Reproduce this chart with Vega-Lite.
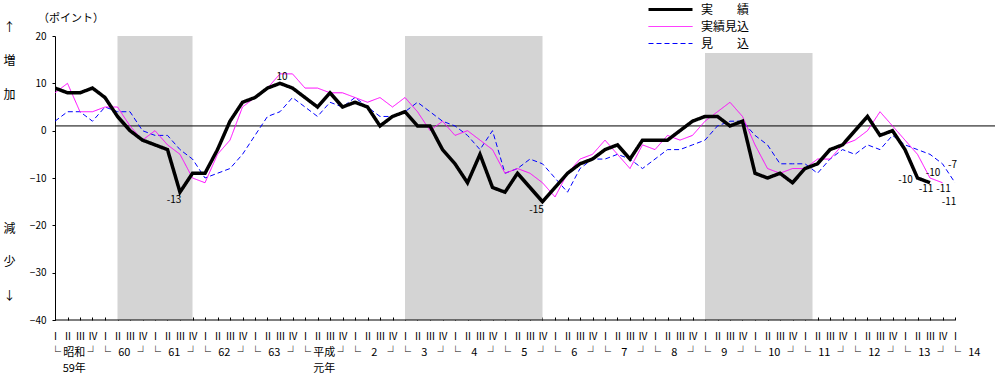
{
"$schema":"https://vega.github.io/schema/vega-lite/v6.json",
"width":940,"height":284,
"autosize":{"type":"none"},
"padding":{"left":55,"top":36,"right":7,"bottom":57},
"background":"white",
"title":{"text":"（ポイント）","anchor":"start","frame":"group","dx":-17,"dy":20,"offset":0,"fontSize":11,"fontWeight":"normal","font":"Noto Sans CJK JP","color":"black"},
"config":{"view":{"stroke":null},"font":"Noto Sans CJK JP","axis":{"grid":false,"labelColor":"black","tickColor":"black","domainColor":"black","labelFont":"Noto Sans CJK JP","titleColor":"black","titleFont":"Noto Sans CJK JP"}},
"datasets":{
"shade":[{"from":5,"to":11,"top":20},{"from":28,"to":39,"top":20},{"from":52,"to":60.6,"top":16.4}],
"series":[
{"s":"見　　込","q":0,"v":2},{"s":"見　　込","q":1,"v":4},{"s":"見　　込","q":2,"v":4},{"s":"見　　込","q":3,"v":2},{"s":"見　　込","q":4,"v":5},{"s":"見　　込","q":5,"v":4},{"s":"見　　込","q":6,"v":4},{"s":"見　　込","q":7,"v":0},{"s":"見　　込","q":8,"v":-1},{"s":"見　　込","q":9,"v":-1},
{"s":"見　　込","q":10,"v":-4},{"s":"見　　込","q":11,"v":-6},{"s":"見　　込","q":12,"v":-10},{"s":"見　　込","q":13,"v":-9},{"s":"見　　込","q":14,"v":-8},{"s":"見　　込","q":15,"v":-5},{"s":"見　　込","q":16,"v":-1},{"s":"見　　込","q":17,"v":3},{"s":"見　　込","q":18,"v":4},{"s":"見　　込","q":19,"v":7},
{"s":"見　　込","q":20,"v":5},{"s":"見　　込","q":21,"v":3},{"s":"見　　込","q":22,"v":6},{"s":"見　　込","q":23,"v":5},{"s":"見　　込","q":24,"v":7},{"s":"見　　込","q":25,"v":5},{"s":"見　　込","q":26,"v":3},{"s":"見　　込","q":27,"v":3},{"s":"見　　込","q":28,"v":4},{"s":"見　　込","q":29,"v":6},
{"s":"見　　込","q":30,"v":4},{"s":"見　　込","q":31,"v":2},{"s":"見　　込","q":32,"v":1},{"s":"見　　込","q":33,"v":-1},{"s":"見　　込","q":34,"v":-4},{"s":"見　　込","q":35,"v":0},{"s":"見　　込","q":36,"v":-9},{"s":"見　　込","q":37,"v":-8},{"s":"見　　込","q":38,"v":-6},{"s":"見　　込","q":39,"v":-7},
{"s":"見　　込","q":40,"v":-10},{"s":"見　　込","q":41,"v":-13},{"s":"見　　込","q":42,"v":-8},{"s":"見　　込","q":43,"v":-6},{"s":"見　　込","q":44,"v":-6},{"s":"見　　込","q":45,"v":-5},{"s":"見　　込","q":46,"v":-6},{"s":"見　　込","q":47,"v":-8},{"s":"見　　込","q":48,"v":-6},{"s":"見　　込","q":49,"v":-4},
{"s":"見　　込","q":50,"v":-4},{"s":"見　　込","q":51,"v":-3},{"s":"見　　込","q":52,"v":-2},{"s":"見　　込","q":53,"v":1},{"s":"見　　込","q":54,"v":2},{"s":"見　　込","q":55,"v":2},{"s":"見　　込","q":56,"v":-1},{"s":"見　　込","q":57,"v":-3},{"s":"見　　込","q":58,"v":-7},{"s":"見　　込","q":59,"v":-7},
{"s":"見　　込","q":60,"v":-7},{"s":"見　　込","q":61,"v":-9},{"s":"見　　込","q":62,"v":-6},{"s":"見　　込","q":63,"v":-4},{"s":"見　　込","q":64,"v":-5},{"s":"見　　込","q":65,"v":-3},{"s":"見　　込","q":66,"v":-4},{"s":"見　　込","q":67,"v":-1},{"s":"見　　込","q":68,"v":-3},{"s":"見　　込","q":69,"v":-4},
{"s":"見　　込","q":70,"v":-5},{"s":"見　　込","q":71,"v":-7},{"s":"見　　込","q":72,"v":-11},
{"s":"実績見込","q":0,"v":8},{"s":"実績見込","q":1,"v":10},{"s":"実績見込","q":2,"v":4},{"s":"実績見込","q":3,"v":4},{"s":"実績見込","q":4,"v":5},{"s":"実績見込","q":5,"v":5},{"s":"実績見込","q":6,"v":1},{"s":"実績見込","q":7,"v":-2},{"s":"実績見込","q":8,"v":0},{"s":"実績見込","q":9,"v":-3},
{"s":"実績見込","q":10,"v":-5},{"s":"実績見込","q":11,"v":-10},{"s":"実績見込","q":12,"v":-11},{"s":"実績見込","q":13,"v":-5},{"s":"実績見込","q":14,"v":-2},{"s":"実績見込","q":15,"v":5},{"s":"実績見込","q":16,"v":7},{"s":"実績見込","q":17,"v":9},{"s":"実績見込","q":18,"v":12},{"s":"実績見込","q":19,"v":12},
{"s":"実績見込","q":20,"v":9},{"s":"実績見込","q":21,"v":9},{"s":"実績見込","q":22,"v":8},{"s":"実績見込","q":23,"v":8},{"s":"実績見込","q":24,"v":7},{"s":"実績見込","q":25,"v":6},{"s":"実績見込","q":26,"v":7},{"s":"実績見込","q":27,"v":5},{"s":"実績見込","q":28,"v":7},{"s":"実績見込","q":29,"v":4},
{"s":"実績見込","q":30,"v":0},{"s":"実績見込","q":31,"v":2},{"s":"実績見込","q":32,"v":-1},{"s":"実績見込","q":33,"v":0},{"s":"実績見込","q":34,"v":-2},{"s":"実績見込","q":35,"v":-4},{"s":"実績見込","q":36,"v":-9},{"s":"実績見込","q":37,"v":-8},{"s":"実績見込","q":38,"v":-9},{"s":"実績見込","q":39,"v":-11},
{"s":"実績見込","q":40,"v":-14},{"s":"実績見込","q":41,"v":-9},{"s":"実績見込","q":42,"v":-6},{"s":"実績見込","q":43,"v":-5},{"s":"実績見込","q":44,"v":-2},{"s":"実績見込","q":45,"v":-5},{"s":"実績見込","q":46,"v":-8},{"s":"実績見込","q":47,"v":-3},{"s":"実績見込","q":48,"v":-4},{"s":"実績見込","q":49,"v":-1},
{"s":"実績見込","q":50,"v":-2},{"s":"実績見込","q":51,"v":-1},{"s":"実績見込","q":52,"v":2},{"s":"実績見込","q":53,"v":4},{"s":"実績見込","q":54,"v":6},{"s":"実績見込","q":55,"v":3},{"s":"実績見込","q":56,"v":-3},{"s":"実績見込","q":57,"v":-8},{"s":"実績見込","q":58,"v":-9},{"s":"実績見込","q":59,"v":-8},
{"s":"実績見込","q":60,"v":-8},{"s":"実績見込","q":61,"v":-6},{"s":"実績見込","q":62,"v":-6},{"s":"実績見込","q":63,"v":-3},{"s":"実績見込","q":64,"v":-2},{"s":"実績見込","q":65,"v":0},{"s":"実績見込","q":66,"v":4},{"s":"実績見込","q":67,"v":1},{"s":"実績見込","q":68,"v":-2},{"s":"実績見込","q":69,"v":-5},
{"s":"実績見込","q":70,"v":-10},{"s":"実績見込","q":71,"v":-11},
{"s":"実　　績","q":0,"v":9},{"s":"実　　績","q":1,"v":8},{"s":"実　　績","q":2,"v":8},{"s":"実　　績","q":3,"v":9},{"s":"実　　績","q":4,"v":7},{"s":"実　　績","q":5,"v":3},{"s":"実　　績","q":6,"v":0},{"s":"実　　績","q":7,"v":-2},{"s":"実　　績","q":8,"v":-3},{"s":"実　　績","q":9,"v":-4},
{"s":"実　　績","q":10,"v":-13},{"s":"実　　績","q":11,"v":-9},{"s":"実　　績","q":12,"v":-9},{"s":"実　　績","q":13,"v":-4},{"s":"実　　績","q":14,"v":2},{"s":"実　　績","q":15,"v":6},{"s":"実　　績","q":16,"v":7},{"s":"実　　績","q":17,"v":9},{"s":"実　　績","q":18,"v":10},{"s":"実　　績","q":19,"v":9},
{"s":"実　　績","q":20,"v":7},{"s":"実　　績","q":21,"v":5},{"s":"実　　績","q":22,"v":8},{"s":"実　　績","q":23,"v":5},{"s":"実　　績","q":24,"v":6},{"s":"実　　績","q":25,"v":5},{"s":"実　　績","q":26,"v":1},{"s":"実　　績","q":27,"v":3},{"s":"実　　績","q":28,"v":4},{"s":"実　　績","q":29,"v":1},
{"s":"実　　績","q":30,"v":1},{"s":"実　　績","q":31,"v":-4},{"s":"実　　績","q":32,"v":-7},{"s":"実　　績","q":33,"v":-11},{"s":"実　　績","q":34,"v":-5},{"s":"実　　績","q":35,"v":-12},{"s":"実　　績","q":36,"v":-13},{"s":"実　　績","q":37,"v":-9},{"s":"実　　績","q":38,"v":-12},{"s":"実　　績","q":39,"v":-15},
{"s":"実　　績","q":40,"v":-12},{"s":"実　　績","q":41,"v":-9},{"s":"実　　績","q":42,"v":-7},{"s":"実　　績","q":43,"v":-6},{"s":"実　　績","q":44,"v":-4},{"s":"実　　績","q":45,"v":-3},{"s":"実　　績","q":46,"v":-6},{"s":"実　　績","q":47,"v":-2},{"s":"実　　績","q":48,"v":-2},{"s":"実　　績","q":49,"v":-2},
{"s":"実　　績","q":50,"v":0},{"s":"実　　績","q":51,"v":2},{"s":"実　　績","q":52,"v":3},{"s":"実　　績","q":53,"v":3},{"s":"実　　績","q":54,"v":1},{"s":"実　　績","q":55,"v":2},{"s":"実　　績","q":56,"v":-9},{"s":"実　　績","q":57,"v":-10},{"s":"実　　績","q":58,"v":-9},{"s":"実　　績","q":59,"v":-11},
{"s":"実　　績","q":60,"v":-8},{"s":"実　　績","q":61,"v":-7},{"s":"実　　績","q":62,"v":-4},{"s":"実　　績","q":63,"v":-3},{"s":"実　　績","q":64,"v":0},{"s":"実　　績","q":65,"v":3},{"s":"実　　績","q":66,"v":-1},{"s":"実　　績","q":67,"v":0},{"s":"実　　績","q":68,"v":-4},{"s":"実　　績","q":69,"v":-10},
{"s":"実　　績","q":70,"v":-11}
]
},
"resolve":{"axis":{"x":"independent","y":"independent"}},
"layer":[
{"data":{"name":"shade"},"mark":{"type":"rect","color":"#d4d4d4"},
 "encoding":{
  "x":{"field":"from","type":"quantitative","scale":{"domain":[0,75.2],"nice":false,"zero":false},
   "axis":{"orient":"bottom","values":[0,1,2,3,4,5,6,7,8,9,10,11,12,13,14,15,16,17,18,19,20,21,22,23,24,25,26,27,28,29,30,31,32,33,34,35,36,37,38,39,40,41,42,43,44,45,46,47,48,49,50,51,52,53,54,55,56,57,58,59,60,61,62,63,64,65,66,67,68,69,70,71,72],
   "domain":false,"ticks":true,"tickSize":-3,"labelExpr":"['Ⅰ','Ⅱ','Ⅲ','Ⅳ'][datum.value % 4]","labelFontSize":10,"labelPadding":14,"labelOverlap":false,"labelFlush":false,"labelBound":false,"title":null}},
  "x2":{"field":"to"},
  "y":{"field":"top","type":"quantitative","scale":{"domain":[-40,20],"nice":false,"zero":false},
   "axis":{"orient":"left","values":[-40,-30,-20,-10,0,10,20],"labelFontSize":10,"tickSize":3,"labelPadding":6,"title":["↑","増","加"],"titleAngle":0,"titleX":-46,"titleY":-14,"titleBaseline":"top","titleAlign":"center","titleFontSize":12,"titleFontWeight":"normal","titleLineHeight":33.5}},
  "y2":{"datum":-40}}},
{"data":{"values":[{}]},"mark":{"type":"rule","color":"black","strokeWidth":1},
 "encoding":{"x":{"datum":0,"type":"quantitative","axis":null},"x2":{"datum":75.2},"y":{"datum":1,"type":"quantitative","axis":null}}},
{"data":{"values":[{}]},"mark":{"type":"rule","color":"black","strokeWidth":1},
 "encoding":{"x":{"datum":0,"type":"quantitative","axis":null},"x2":{"datum":72},"y":{"datum":-40,"type":"quantitative","axis":null}}},
{"data":{"name":"series"},"mark":{"type":"line","clip":true},
 "encoding":{
  "x":{"field":"q","type":"quantitative",
   "axis":{"orient":"bottom","values":[1.5,5.5,9.5,13.5,17.5,21.5,25.5,29.5,33.5,37.5,41.5,45.5,49.5,53.5,57.5,61.5,65.5,69.5,73.5],"domain":false,"ticks":false,
   "labelExpr":"datum.value < 2 ? ['昭和','59年'] : (datum.value > 21 && datum.value < 22) ? ['平成','元年'] : datum.value < 21 ? '' + (59 + (datum.value - 1.5) / 4) : '' + ((datum.value - 1.5) / 4 - 4)",
   "labelFontSize":11,"labelPadding":26,"labelLineHeight":16,"labelOverlap":false,"labelFlush":false,"labelBound":false,"title":null}},
  "y":{"field":"v","type":"quantitative",
   "axis":{"orient":"left","domain":false,"ticks":false,"labels":false,"title":["減","少","↓"],"titleAngle":0,"titleX":-46,"titleY":187,"titleBaseline":"top","titleAlign":"center","titleFontSize":12,"titleFontWeight":"normal","titleLineHeight":33.5}},
  "color":{"field":"s","type":"nominal","scale":{"domain":["実　　績","実績見込","見　　込"],"range":["#000000","#ff00ff","#0000ff"]},
   "legend":{"orient":"none","legendX":609.5,"legendY":-32.5,"padding":0,"title":null,"symbolType":"M-4,0H4","symbolSize":121,"labelFontSize":12,"labelOffset":24.5,"rowPadding":5,"labelColor":"black","labelFont":"Noto Sans CJK JP",
    "encode":{"symbols":{"update":{"strokeWidth":{"signal":"datum.value === '実　　績' ? 3 : 1"}}}}}},
  "strokeDash":{"field":"s","type":"nominal","scale":{"domain":["実　　績","実績見込","見　　込"],"range":[[1,0],[1,0],[5,3]]}},
  "strokeWidth":{"condition":{"test":"datum.s === '実　　績'","value":3.5},"value":1}
 }},
{"data":{"name":"series"},"transform":[{"filter":"datum.s == '実　　績' && (datum.q == 10 || datum.q == 39)"}],
 "mark":{"type":"text","dx":-6,"dy":8,"fontSize":10,"color":"black","baseline":"middle"},
 "encoding":{"x":{"field":"q","type":"quantitative","axis":{"orient":"bottom","values":[0,4,8,12,16,20,24,28,32,36,40,44,48,52,56,60,64,68,72],"domain":false,"ticks":false,"labelExpr":"'└'","labelFontSize":11,"labelPadding":26,"labelOverlap":false,"labelFlush":false,"labelBound":false,"title":null}},"y":{"field":"v","type":"quantitative","axis":null},"text":{"field":"v","type":"nominal"}}},
{"data":{"name":"series"},"transform":[{"filter":"datum.s == '実　　績' && datum.q == 18"}],
 "mark":{"type":"text","dx":2,"dy":-6,"fontSize":10,"color":"black","baseline":"middle"},
 "encoding":{"x":{"field":"q","type":"quantitative","axis":{"orient":"bottom","values":[3,7,11,15,19,23,27,31,35,39,43,47,51,55,59,63,67,71],"domain":false,"ticks":false,"labelExpr":"'┘'","labelFontSize":11,"labelPadding":26,"labelOverlap":false,"labelFlush":false,"labelBound":false,"title":null}},"y":{"field":"v","type":"quantitative","axis":null},"text":{"field":"v","type":"nominal"}}},
{"data":{"name":"series"},"transform":[{"filter":"datum.s == '実　　績' && datum.q == 69"}],
 "mark":{"type":"text","dx":-12,"dy":2,"fontSize":10,"color":"black","baseline":"middle"},
 "encoding":{"x":{"field":"q","type":"quantitative","axis":null},"y":{"field":"v","type":"quantitative","axis":null},"text":{"field":"v","type":"nominal"}}},
{"data":{"name":"series"},"transform":[{"filter":"datum.s == '実　　績' && datum.q == 70"}],
 "mark":{"type":"text","dx":-4,"dy":6,"fontSize":10,"color":"black","baseline":"middle"},
 "encoding":{"x":{"field":"q","type":"quantitative","axis":null},"y":{"field":"v","type":"quantitative","axis":null},"text":{"field":"v","type":"nominal"}}},
{"data":{"name":"series"},"transform":[{"filter":"datum.s == '実績見込' && datum.q == 71"}],
 "mark":{"type":"text","dx":1,"dy":6,"fontSize":10,"color":"black","baseline":"middle"},
 "encoding":{"x":{"field":"q","type":"quantitative","axis":null},"y":{"field":"v","type":"quantitative","axis":null},"text":{"field":"v","type":"nominal"}}},
{"data":{"name":"series"},"transform":[{"filter":"datum.s == '実績見込' && datum.q == 70"}],
 "mark":{"type":"text","dx":3,"dy":-5,"fontSize":10,"color":"black","baseline":"middle"},
 "encoding":{"x":{"field":"q","type":"quantitative","axis":null},"y":{"field":"v","type":"quantitative","axis":null},"text":{"field":"v","type":"nominal"}}},
{"data":{"name":"series"},"transform":[{"filter":"datum.s == '見　　込' && datum.q == 71"}],
 "mark":{"type":"text","dx":10,"dy":1,"fontSize":10,"color":"black","baseline":"middle"},
 "encoding":{"x":{"field":"q","type":"quantitative","axis":null},"y":{"field":"v","type":"quantitative","axis":null},"text":{"field":"v","type":"nominal"}}},
{"data":{"name":"series"},"transform":[{"filter":"datum.s == '見　　込' && datum.q == 72"}],
 "mark":{"type":"text","dx":-6,"dy":19,"fontSize":10,"color":"black","baseline":"middle"},
 "encoding":{"x":{"field":"q","type":"quantitative","axis":null},"y":{"field":"v","type":"quantitative","axis":null},"text":{"field":"v","type":"nominal"}}}
]
}
